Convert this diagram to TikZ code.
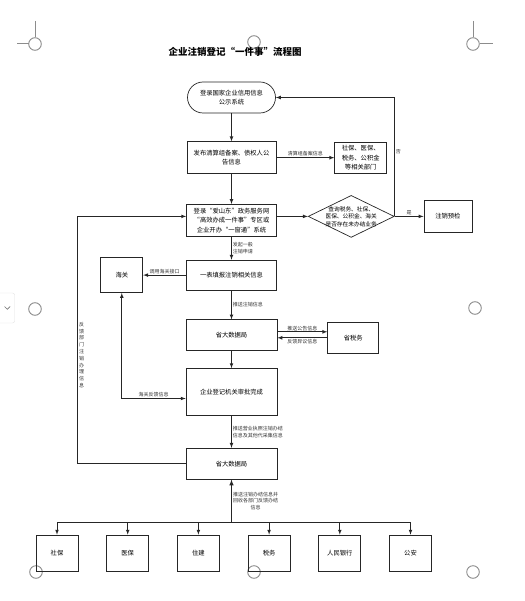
\documentclass[tikz,border=0pt]{standalone}
\usepackage{fontspec}
\newfontfamily\cjk{Noto Sans CJK SC}
\usetikzlibrary{shapes.geometric, positioning, arrows}

\newcommand{\boxfont}{\cjk\fontsize{6.3}{9.5}\selectfont}
\newcommand{\dmdfont}{\cjk\fontsize{5.7}{7.5}\selectfont}
\newcommand{\lblfont}{\cjk\fontsize{5}{6.8}\selectfont}
\newcommand{\titlefont}{\cjk\bfseries\fontsize{9.5}{11}\selectfont}

\tikzset{
  box/.style={draw=black!85, line width=0.7pt, font=\boxfont, align=center,
    inner sep=1pt},
  dbox/.style={box, minimum width=42pt, minimum height=36pt},
  lbl/.style={font=\lblfont, inner sep=1pt, align=left, text=black!80},
  vlbl/.style={font=\lblfont, inner sep=1pt, align=center, text=black!80},
  arr/.style={-latex, draw=black!85, line width=0.7pt},
  pagemark/.style={draw=black!45, line width=0.9pt},
}

\begin{document}
\begin{tikzpicture}[x=1pt, y=-1pt]
  \useasboundingbox (0,0) rectangle (524,601);

  % page marks
  \draw [pagemark] (35,44) circle (6.3pt);%
  \draw [pagemark] (35,21) -- (35,37.5);%
  \draw [pagemark] (17,43) -- (28.5,43);%
  \draw [pagemark] (473,44) circle (6.3pt);%
  \draw [pagemark] (473,21) -- (473,37.5);%
  \draw [pagemark] (479.5,43) -- (493,43);%
  \draw [pagemark] (254,42) circle (6.3pt);%
  \draw [pagemark] (35,309) circle (6.3pt);%
  \draw [pagemark] (475,308) circle (6.3pt);%
  \draw [pagemark] (36,572) circle (6.3pt);%
  \draw [pagemark] (254,572) circle (6.3pt);%
  \draw [pagemark] (473,572) circle (6.3pt);%
  \draw [draw=black!12, rounded corners=2pt] (-3,293) rectangle (14.5,323);%
  \draw [black!55, line width=0.6pt] (4.5,306.5) -- (7.3,309.3) -- (10.1,306.5);%

  % title
  \node [font=\titlefont] (Title) at (235,52) {企业注销登记“一件事”流程图};%

  % start
  \node [box, rounded corners=15.5pt, minimum width=88pt, minimum height=31pt]
  (Start) at (231.5,97.5) {登录国家企业信用信息\\公示系统};%

  % publish
  \node [box, minimum width=89pt, minimum height=32pt, below=28pt of Start]
  (Pub) {发布清算组备案、债权人公\\告信息};%
  \node [box, minimum width=52pt, minimum height=31pt, right=58pt of Pub]
  (Dept) {社保、医保、\\税务、公积金\\等相关部门};%

  % login
  \node [box, minimum width=90pt, minimum height=32pt, below=30pt of Pub]
  (Login) {登录“爱山东”政务服务网\\“高效办成一件事”专区或\\企业开办“一窗通”系统};%
  \node [draw=black!85, line width=0.7pt, diamond, minimum width=86pt,
  minimum height=42pt, inner sep=0pt, right=31pt of Login, yshift=4pt,
  label={[font=\dmdfont, align=center, inner sep=0pt]center:查询税务、社保、\\医保、公积金、海关\\是否存在未办结业务}]
  (Chk) {};%
  \node [box, minimum width=48pt, minimum height=32pt, right=29pt of Chk]
  (Pre) {注销预检};%

  % fill in
  \node [box, minimum width=90pt, minimum height=30pt, below=23pt of Login]
  (Fill) {一表填报注销相关信息};%
  \node [box, minimum width=42pt, minimum height=35pt, left=43pt of Fill]
  (HG) {海关};%

  % big data 1
  \node [box, minimum width=91pt, minimum height=31pt, below=29pt of Fill]
  (SBD1) {省大数据局};%
  \node [box, minimum width=51pt, minimum height=31pt, right=50pt of SBD1,
  yshift=-3pt] (Tax) {省税务};%

  % audit
  \node [box, minimum width=91pt, minimum height=47pt, below=17pt of SBD1]
  (Audit) {企业登记机关审批完成};%

  % big data 2
  \node [box, minimum width=91pt, minimum height=31pt, below=32pt of Audit]
  (SBD2) {省大数据局};%
  \coordinate [below=43pt of SBD2.south] (Bar);%

  % departments
  \node [dbox] (D1) at (57,553) {社保};%
  \node [dbox, right=28pt of D1] (D2) {医保};%
  \node [dbox, right=28pt of D2] (D3) {住建};%
  \node [dbox, right=28pt of D3] (D4) {税务};%
  \node [dbox, right=28pt of D4] (D5) {人民银行};%
  \node [dbox, right=28pt of D5] (D6) {公安};%

  % arrows
  \draw [arr] (Start) -- (Pub);%
  \draw [arr] (Pub) -- (Login);%
  \draw [arr] (Pub) -- (Dept) node [midway, above, lbl] {清算组备案信息};%
  \draw [arr] ([yshift=4pt]Login.east) -- (Chk.west);%
  \draw [arr] (Chk.east) -- (Pre.west) node [midway, above, lbl] {是};%
  \draw [arr] (Chk.east) |- (Start.east) node [pos=0.27, right, lbl] {否};%
  \draw [arr] (Login) -- (Fill) node [midway, right, lbl] {发起一般\\注销申请};%
  \draw [arr] (Fill) -- (HG) node [midway, above, lbl] {调用海关接口};%
  \draw [arr] (Fill) -- (SBD1) node [midway, right, lbl] {推送注销信息};%
  \draw [arr] ([yshift=3.5pt]SBD1.east) -- ([yshift=3.5pt]SBD1.east -| Tax.west)
  node [midway, above, lbl] {推送公告信息};%
  \draw [arr] ([yshift=-2.5pt]SBD1.east -| Tax.west) -- ([yshift=-2.5pt]SBD1.east)
  node [midway, below, lbl] {反馈异议信息};%
  \draw [arr] (SBD1) -- (Audit);%
  \draw [arr, latex-latex] (HG.south) |- ([yshift=-6.5pt]Audit.west)
  node [pos=0.75, above, lbl] {海关反馈信息};%
  \draw [arr] (Audit) -- (SBD2) node [midway, right, lbl]
  {推送营业执照注销办结\\信息及其他代采集信息};%
  \draw [arr] (SBD2.west) -- ([xshift=-108pt]SBD2.west) |- ([yshift=4pt]Login.west)
  node [pos=0.22, right, vlbl] {反\\馈\\部\\门\\注\\销\\办\\理\\信\\息};%

  % branch
  \draw [arr, latex-, line width=1pt] (SBD2.south) -- (Bar)
  node [midway, right, lbl, align=center] {推送注销办结信息并\\回收各部门反馈办结\\信息};%
  \draw [draw=black!85, line width=1pt] (Bar -| D1.north) -- (Bar -| D6.north);%
  \draw [arr] (Bar -| D1.north) -- (D1.north);%
  \draw [arr] (Bar -| D2.north) -- (D2.north);%
  \draw [arr] (Bar -| D3.north) -- (D3.north);%
  \draw [arr] (Bar -| D4.north) -- (D4.north);%
  \draw [arr] (Bar -| D5.north) -- (D5.north);%
  \draw [arr] (Bar -| D6.north) -- (D6.north);%
\end{tikzpicture}
\end{document}
